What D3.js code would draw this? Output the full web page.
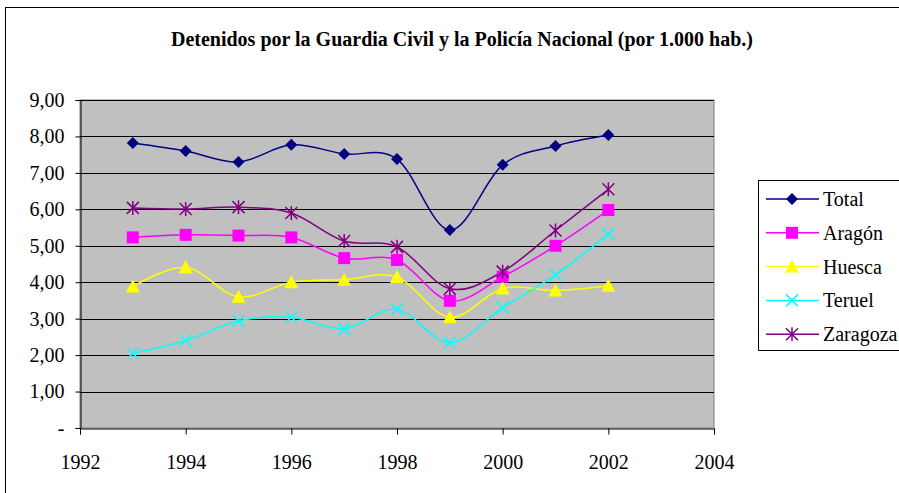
<!DOCTYPE html>
<html>
<head>
<meta charset="utf-8">
<script src="https://cdn.jsdelivr.net/npm/d3@7"></script>
</head>
<body style="margin:0">
<script>
// data
var years = [1993, 1994, 1995, 1996, 1997, 1998, 1999, 2000, 2001, 2002];
var seriesNames = ["Total", "Aragón", "Huesca", "Teruel", "Zaragoza"];
var total    = [7.82, 7.60, 7.30, 7.77, 7.52, 7.38, 5.43, 7.22, 7.74, 8.04];
var aragon   = [5.23, 5.30, 5.28, 5.23, 4.66, 4.61, 3.49, 4.15, 5.00, 5.98];
var huesca   = [3.88, 4.41, 3.60, 4.00, 4.07, 4.14, 3.04, 3.83, 3.77, 3.90];
var teruel   = [2.05, 2.40, 2.94, 3.04, 2.72, 3.26, 2.34, 3.30, 4.20, 5.32];
var zaragoza = [6.04, 6.01, 6.06, 5.90, 5.13, 4.97, 3.82, 4.29, 5.42, 6.55];
var xTicks = [1992, 1994, 1996, 1998, 2000, 2002, 2004];
var yTicks = [0, 1, 2, 3, 4, 5, 6, 7, 8, 9];

var colors = ["#000080", "#ff00ff", "#ffff00", "#00ffff", "#800080"];
var shapes = ["diamond", "square", "triangle", "x", "star"];
var values = [total, aragon, huesca, teruel, zaragoza];

var width = 899, height = 493;
var plot = { left: 80, top: 100, right: 714, bottom: 428 };
var serif = "'Liberation Serif'";

var svg = d3.select("body").append("svg")
    .attr("width", width)
    .attr("height", height)
    .style("font-family", serif);

// chart frame (cut off on the right and bottom like the original)
svg.append("rect")
    .attr("x", 5.5).attr("y", 7.5)
    .attr("width", width + 10).attr("height", height + 10)
    .attr("fill", "#fff")
    .attr("stroke", "#000");

svg.append("text")
    .attr("x", 462)
    .attr("y", 46)
    .attr("text-anchor", "middle")
    .style("font-weight", "bold")
    .style("font-size", "20px")
    .style("font-family", serif)
    .text("Detenidos por la Guardia Civil y la Policía Nacional (por 1.000 hab.)");

var x = d3.scaleLinear().domain([1992, 2004]).range([plot.left, plot.right]);
var y = d3.scaleLinear().domain([0, 9]).range([plot.bottom, plot.top]);

svg.append("rect")
    .attr("x", plot.left).attr("y", plot.top)
    .attr("width", plot.right - plot.left)
    .attr("height", plot.bottom - plot.top)
    .attr("fill", "#c0c0c0")
    .attr("stroke", "#808080");

// gridlines
svg.append("g")
  .selectAll("line")
  .data(yTicks.slice(1))
  .enter().append("line")
    .attr("x1", plot.left).attr("x2", plot.right)
    .attr("y1", function(d) { return Math.round(y(d)) + 0.5; })
    .attr("y2", function(d) { return Math.round(y(d)) + 0.5; })
    .attr("stroke", "#000");

// y axis
var yAxis = svg.append("g")
    .attr("transform", "translate(" + (plot.left + 0.5) + ",0)")
    .call(d3.axisLeft(y)
      .tickValues(yTicks)
      .tickSize(5)
      .tickPadding(11)
      .tickFormat(function(d) { return d === 0 ? "-" : d3.format(".2f")(d).replace(".", ","); }));
yAxis.attr("font-family", null).attr("font-size", null);
yAxis.selectAll("text").style("font-family", serif).style("font-size", "20px");
yAxis.select(".domain").attr("stroke", "#000");

// x axis
var xAxis = svg.append("g")
    .attr("transform", "translate(0," + (plot.bottom + 0.5) + ")")
    .call(d3.axisBottom(x)
      .tickValues(xTicks)
      .tickSize(6)
      .tickPadding(20)
      .tickFormat(d3.format("d")));
xAxis.attr("font-family", null).attr("font-size", null);
xAxis.selectAll("text").style("font-family", serif).style("font-size", "20px");

// marker drawing
function drawMarker(g, shape, color, s) {
  if (shape === "diamond") {
    g.append("path").attr("d", "M0," + (-s) + "L" + s + ",0L0," + s + "L" + (-s) + ",0Z").attr("fill", color);
  } else if (shape === "square") {
    g.append("rect").attr("x", -s).attr("y", -s).attr("width", 2 * s).attr("height", 2 * s).attr("fill", color);
  } else if (shape === "triangle") {
    g.append("path").attr("d", "M0," + (-s - 1) + "L" + (s + 1) + "," + (s) + "L" + (-s - 1) + "," + (s) + "Z").attr("fill", color);
  } else if (shape === "x") {
    g.append("path").attr("d", "M" + (-s) + "," + (-s) + "L" + s + "," + s + "M" + (-s) + "," + s + "L" + s + "," + (-s))
      .attr("stroke", color).attr("stroke-width", 1.5).attr("fill", "none");
  } else {
    g.append("path").attr("d", "M" + (-s) + "," + (-s) + "L" + s + "," + s + "M" + (-s) + "," + s + "L" + s + "," + (-s) + "M0," + (-s - 1) + "L0," + (s + 1))
      .attr("stroke", color).attr("stroke-width", 1.5).attr("fill", "none");
  }
}

var line = d3.line()
    .x(function(d, i) { return x(years[i]); })
    .y(function(d) { return y(d); })
    .curve(d3.curveCardinal.tension(0));

values.forEach(function(vals, k) {
  svg.append("path")
      .datum(vals)
      .attr("d", line)
      .attr("fill", "none")
      .attr("stroke", colors[k])
      .attr("stroke-width", 1.5);
});

values.forEach(function(vals, k) {
  vals.forEach(function(v, i) {
    var g = svg.append("g").attr("transform", "translate(" + x(years[i]) + "," + y(v) + ")");
    drawMarker(g, shapes[k], colors[k], 6);
  });
});

// legend
var legend = svg.append("g");
legend.append("rect")
    .attr("x", 758.5).attr("y", 180.5)
    .attr("width", 160).attr("height", 170)
    .attr("fill", "#fff")
    .attr("stroke", "#000");

seriesNames.forEach(function(name, k) {
  var ly = 199 + k * 33.8;
  var row = legend.append("g").attr("transform", "translate(0," + ly + ")");
  row.append("line")
      .attr("x1", 766).attr("x2", 819)
      .attr("stroke", colors[k]).attr("stroke-width", 1.5);
  drawMarker(row.append("g").attr("transform", "translate(792,0)"), shapes[k], colors[k], 6);
  row.append("text")
      .attr("x", 823)
      .attr("y", 7)
      .style("font-size", "20px")
      .style("font-family", serif)
      .text(name);
});
</script>
</body>
</html>
